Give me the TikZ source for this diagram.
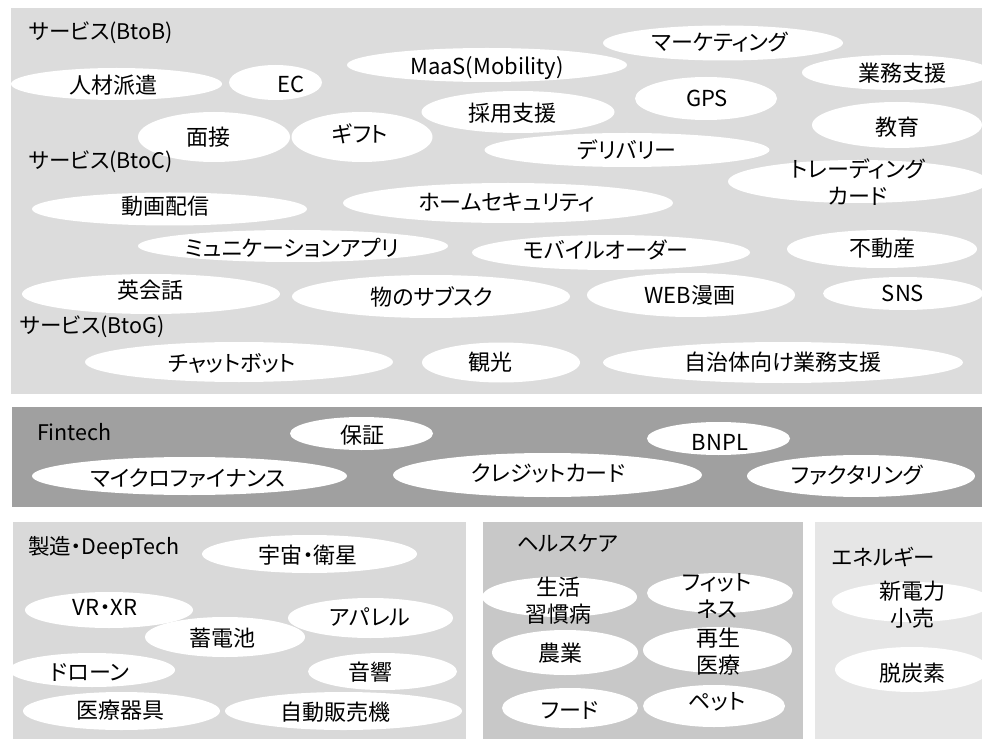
\documentclass[tikz,border=0pt]{standalone}
\usepackage{fontspec}
\setmainfont{Noto Sans CJK JP}[RawFeature=+palt]
\usetikzlibrary{shapes.geometric}
\definecolor{topgray}{HTML}{DCDCDC}
\definecolor{fingray}{HTML}{A0A0A0}
\definecolor{mfggray}{HTML}{D9D9D9}
\definecolor{hcgray}{HTML}{C8C8C8}
\definecolor{engray}{HTML}{E6E6E6}
\newcommand\bub[8]{%
  \node[ell,minimum width=#4pt,minimum height=#5pt] (#1) at (#2,#3) {};
  \node[txt] (#1-t) at (#6,#7) {#8};}
\begin{document}
\begin{tikzpicture}[x=1pt,y=-1pt,
  ell/.style={ellipse,fill=white,draw=none,inner sep=0pt,outer sep=0pt},
  txt/.style={inner sep=0pt,outer sep=0pt,align=center,font=\fontsize{22}{27}\selectfont},
  lab/.style={txt,anchor=west,font=\fontsize{21.5}{27}\selectfont}]
\useasboundingbox (0,0) rectangle (982,743);
% panels
\fill[topgray] (11,8) rectangle (982,394);
\fill[fingray] (12,407) rectangle (982,507);
\fill[mfggray] (13,522) rectangle (466,739);
\fill[hcgray] (483,522) rectangle (803,739);
\fill[engray] (815,522) rectangle (982,739);
% ---- services
\bub{jinzai}{116.5}{84}{211}{32}{113}{85}{人材派遣}
\bub{ec}{275.5}{82.5}{93}{35}{291}{84}{EC}
\bub{maas}{487}{65}{280}{34}{487}{68}{MaaS(Mobility)}
\bub{mensetsu}{214}{137}{152}{50}{208}{137}{面接}
\bub{gift}{362}{137}{141}{50}{360}{134}{ギフト}
\bub{saiyo}{518}{112}{193}{42}{512}{113}{採用支援}
\bub{marketing}{723}{43}{240}{35}{720}{42}{マーケティング}
\bub{gyomu}{897}{72.5}{190}{35}{902}{73}{業務支援}
\bub{gps}{706}{98.5}{142}{43}{707}{98}{GPS}
\bub{kyoiku}{897}{125}{170}{46}{897}{127}{教育}
\bub{delivery}{627}{150}{285}{34}{627}{150}{デリバリー}
\bub{trading}{858}{181.5}{260}{43}{858}{182.5}{トレーディング\\カード}
\bub{douga}{169.5}{209}{275}{33}{165}{206}{動画配信}
\bub{home}{508}{203}{330}{40}{507}{203}{ホームセキュリティ}
\bub{comm}{293}{246}{310}{32}{292}{248}{ミュニケーションアプリ}
\bub{mobile}{611}{252.5}{278}{35}{606}{250}{モバイルオーダー}
\bub{fudosan}{882}{249}{190}{38}{882}{248}{不動産}
\bub{eikaiwa}{151}{294}{258}{40}{150}{290}{英会話}
\bub{subsc}{431}{296.5}{278}{43}{432}{297}{物のサブスク}
\bub{web}{691}{295}{208}{44}{690}{295}{WEB漫画}
\bub{sns}{903}{293.5}{160}{33}{903}{293}{SNS}
\bub{chat}{239}{362}{308}{40}{232}{363}{チャットボット}
\bub{kanko}{501}{362.5}{158}{40}{490}{362}{観光}
\bub{jichitai}{783}{362.5}{360}{41}{783}{362}{自治体向け業務支援}
\node[lab] (btob) at (29,33) {サービス(BtoB)};
\node[lab] (btoc) at (29,162) {サービス(BtoC)};
\node[lab] (btog) at (20,327) {サービス(BtoG)};
% ---- fintech
\bub{hosho}{361.5}{433.5}{143}{33}{362}{435}{保証}
\bub{bnpl}{718.5}{438.5}{143}{33}{720}{442}{BNPL}
\bub{micro}{189.5}{476}{315}{38}{188}{478}{マイクロファイナンス}
\bub{credit}{547.5}{475}{309}{44}{548}{473}{クレジットカード}
\bub{factoring}{861}{476}{228}{42}{857}{475}{ファクタリング}
\node[lab] (fintech) at (37,432) {Fintech};
% ---- manufacturing
\bub{uchu}{309.5}{554}{215}{38}{308}{555}{宇宙・衛星}
\bub{vr}{109}{610}{168}{36}{105}{607}{VR・XR}
\bub{apparel}{370.5}{618}{165}{40}{370}{617}{アパレル}
\bub{battery}{225}{637}{160}{40}{222}{638}{蓄電池}
\bub{drone}{92}{670}{166}{34}{90}{672}{ドローン}
\bub{onkyo}{382.5}{671.5}{149}{37}{370}{672}{音響}
\bub{iryo}{121.5}{711}{197}{38}{120}{710}{医療器具}
\bub{jihan}{343.5}{711}{237}{38}{335}{712}{自動販売機}
\node[lab] (mfg) at (28,548) {製造・DeepTech};
% ---- healthcare
\bub{seikatsu}{559.5}{597}{155}{40}{558}{601}{生活\\習慣病}
\bub{fitness}{720}{593}{146}{40}{717}{596}{フィット\\ネス}
\bub{nogyo}{565}{652.5}{146}{45}{560}{653}{農業}
\bub{saisei}{717.5}{650}{149}{46}{718}{651.5}{再生\\医療}
\bub{food}{570}{708}{136}{40}{570}{710}{フード}
\bub{pet}{714}{706}{142}{42}{717}{702}{ペット}
\node[lab] (hc) at (517,543) {ヘルスケア};
% ---- energy
\bub{shin}{912}{602}{160}{40}{912}{605}{新電力\\小売}
\bub{datsu}{912}{669.5}{154}{45}{912}{673}{脱炭素}
\node[lab] (energy) at (832,557) {エネルギー};
\end{tikzpicture}
\end{document}
